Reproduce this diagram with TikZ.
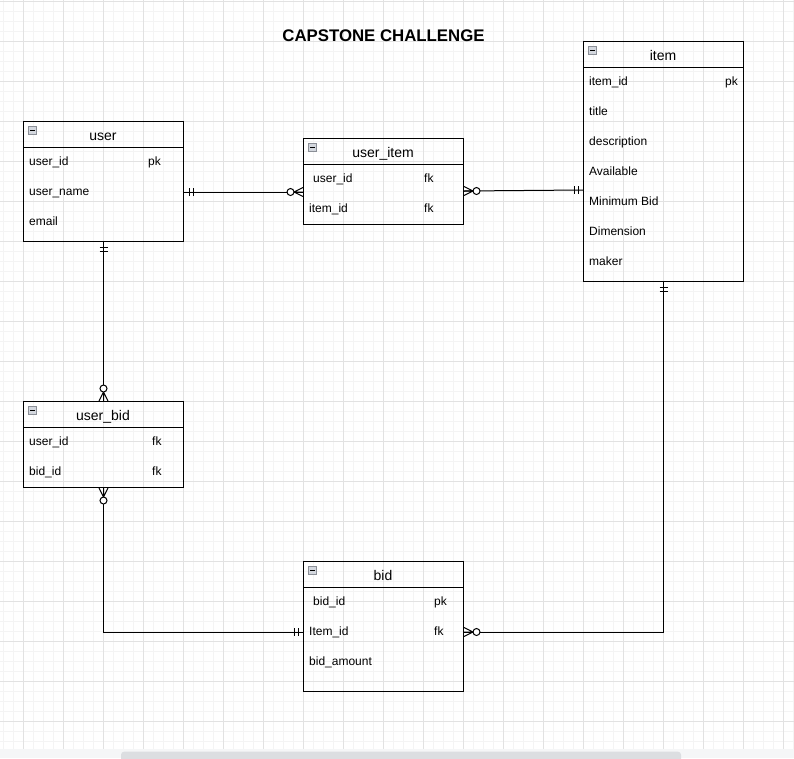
\documentclass[tikz,border=0pt]{standalone}
\usepackage{fontspec}
\setmainfont{Liberation Sans}
\usetikzlibrary{calc}
\definecolor{gmajor}{HTML}{E2E2E2}
\definecolor{gminor}{HTML}{F4F4F4}
\definecolor{stripgray}{HTML}{F5F6F7}
\definecolor{scrollgray}{HTML}{DCDEE1}
\definecolor{iconfill}{HTML}{D3D7DE}
\definecolor{iconline}{HTML}{8A8E96}
\tikzset{
  conn/.style={draw=black, line width=1pt},
  ebox/.style={draw=black, line width=1pt, anchor=north west, minimum width=160pt, inner sep=0pt},
  eline/.style={draw=black, line width=1pt},
  htext/.style={anchor=base, inner sep=0pt, font=\fontsize{14}{16}\selectfont},
  rtext/.style={anchor=base west, inner sep=0pt, font=\fontsize{12}{14}\selectfont},
  icon/.style={draw=iconline, fill=iconfill, line width=0.8pt, minimum size=8pt, inner sep=0pt},
  zmany/.pic={\draw[conn] (0,-4.5) -- (-9,0) -- (0,4.5) (0,0) -- (-9,0);
              \draw[conn, fill=white] (-12.5,0) circle[radius=3.5];},
  onlyone/.pic={\draw[conn] (-5,-4) -- (-5,4) (-9,-4) -- (-9,4);}
}
\begin{document}
\begin{tikzpicture}[x=1pt,y=-1pt]
\useasboundingbox (0,0) rectangle (794,758);
\begin{scope}
\clip (0,0) rectangle (794,758);
\fill[white] (0,0) rectangle (794,758);
\foreach \x in {3,13,...,793} \draw[gminor, line width=0.8pt] (\x,0) -- (\x,749);
\foreach \y in {1.7,11.7,...,741.7} \draw[gminor, line width=0.8pt] (0,\y) -- (794,\y);
\foreach \x in {23,63,...,783} \draw[gmajor, line width=0.8pt] (\x,0) -- (\x,749);
\foreach \y in {1.7,41.7,...,721.7} \draw[gmajor, line width=0.8pt] (0,\y) -- (794,\y);
\fill[stripgray] (0,749) rectangle (794,758);
\fill[scrollgray, rounded corners=3pt] (121,751.7) rectangle (681,764);
\end{scope}

% title
\node[anchor=base, inner sep=0pt, font=\fontsize{16.8}{19}\selectfont\bfseries] (title) at (383.5,41) {CAPSTONE CHALLENGE};

% ---------- user ----------
\node[ebox, minimum height=120pt] (user) at (23,121) {};
\draw[eline] ($(user.north west)+(0,26)$) -- ($(user.north east)+(0,26)$);
\node[icon] (userI) at ($(user.north west)+(9.5,9.5)$) {\rule{4.5pt}{1.2pt}};
\node[htext] (userH) at (103,140) {user};
\node[rtext] (user1) at (29,165) {user\_id};
\node[rtext] (user1k) at (148,165) {pk};
\node[rtext] (user2) at (29,195) {user\_name};
\node[rtext] (user3) at (29,225) {email};

% ---------- user_item ----------
\node[ebox, minimum height=86pt] (ui) at (303,138) {};
\draw[eline] ($(ui.north west)+(0,26)$) -- ($(ui.north east)+(0,26)$);
\node[icon] (uiI) at ($(ui.north west)+(9.5,9.5)$) {\rule{4.5pt}{1.2pt}};
\node[htext] (uiH) at (383,157) {user\_item};
\node[rtext] (ui1) at (313,182) {user\_id};
\node[rtext] (ui1k) at (424,182) {fk};
\node[rtext] (ui2) at (309,212) {item\_id};
\node[rtext] (ui2k) at (424,212) {fk};

% ---------- item ----------
\node[ebox, minimum height=240pt] (item) at (583,41) {};
\draw[eline] ($(item.north west)+(0,26)$) -- ($(item.north east)+(0,26)$);
\node[icon] (itemI) at ($(item.north west)+(9.5,9.5)$) {\rule{4.5pt}{1.2pt}};
\node[htext] (itemH) at (663,60) {item};
\node[rtext] (item1) at (589,85) {item\_id};
\node[rtext] (item1k) at (725,85) {pk};
\node[rtext] (item2) at (589,115) {title};
\node[rtext] (item3) at (589,145) {description};
\node[rtext] (item4) at (589,175) {Available};
\node[rtext] (item5) at (589,205) {Minimum Bid};
\node[rtext] (item6) at (589,235) {Dimension};
\node[rtext] (item7) at (589,265) {maker};

% ---------- user_bid ----------
\node[ebox, minimum height=86pt] (ub) at (23,401) {};
\draw[eline] ($(ub.north west)+(0,26)$) -- ($(ub.north east)+(0,26)$);
\node[icon] (ubI) at ($(ub.north west)+(9.5,9.5)$) {\rule{4.5pt}{1.2pt}};
\node[htext] (ubH) at (103,420) {user\_bid};
\node[rtext] (ub1) at (29,445) {user\_id};
\node[rtext] (ub1k) at (152,445) {fk};
\node[rtext] (ub2) at (29,475) {bid\_id};
\node[rtext] (ub2k) at (152,475) {fk};

% ---------- bid ----------
\node[ebox, minimum height=130pt] (bid) at (303,561) {};
\draw[eline] ($(bid.north west)+(0,26)$) -- ($(bid.north east)+(0,26)$);
\node[icon] (bidI) at ($(bid.north west)+(9.5,9.5)$) {\rule{4.5pt}{1.2pt}};
\node[htext] (bidH) at (383,580) {bid};
\node[rtext] (bid1) at (313,605) {bid\_id};
\node[rtext] (bid1k) at (434,605) {pk};
\node[rtext] (bid2) at (309,635) {Item\_id};
\node[rtext] (bid2k) at (434,635) {fk};
\node[rtext] (bid3) at (309,665) {bid\_amount};

% ---------- connector end points ----------
\path (user.north east) ++(0,71) coordinate (a1);
\path (ui.north west) ++(0,54) coordinate (b1);
\path (ui.north east) ++(0,53) coordinate (a2);
\path (item.north west) ++(0,149) coordinate (b2);
\path (bid.north west) ++(0,71) coordinate (b4);
\path (bid.north east) ++(0,71) coordinate (a5);

% ---------- connectors ----------
\draw[conn] (a1) -- (b1);
\draw[conn] (a2) -- (b2);
\draw[conn] (user.south) -- (ub.north);
\draw[conn] (ub.south) |- (b4);
\draw[conn] (item.south) |- (a5);

% ---------- end marks ----------
\pic[rotate=180] at (a1) {onlyone};
\pic at (b1) {zmany};
\pic[rotate=180] at (a2) {zmany};
\pic at (b2) {onlyone};
\pic[rotate=90] at (user.south) {onlyone};
\pic[rotate=-90] at (ub.north) {zmany};
\pic[rotate=90] at (ub.south) {zmany};
\pic at (b4) {onlyone};
\pic[rotate=90] at (item.south) {onlyone};
\pic[rotate=180] at (a5) {zmany};
\end{tikzpicture}
\end{document}
